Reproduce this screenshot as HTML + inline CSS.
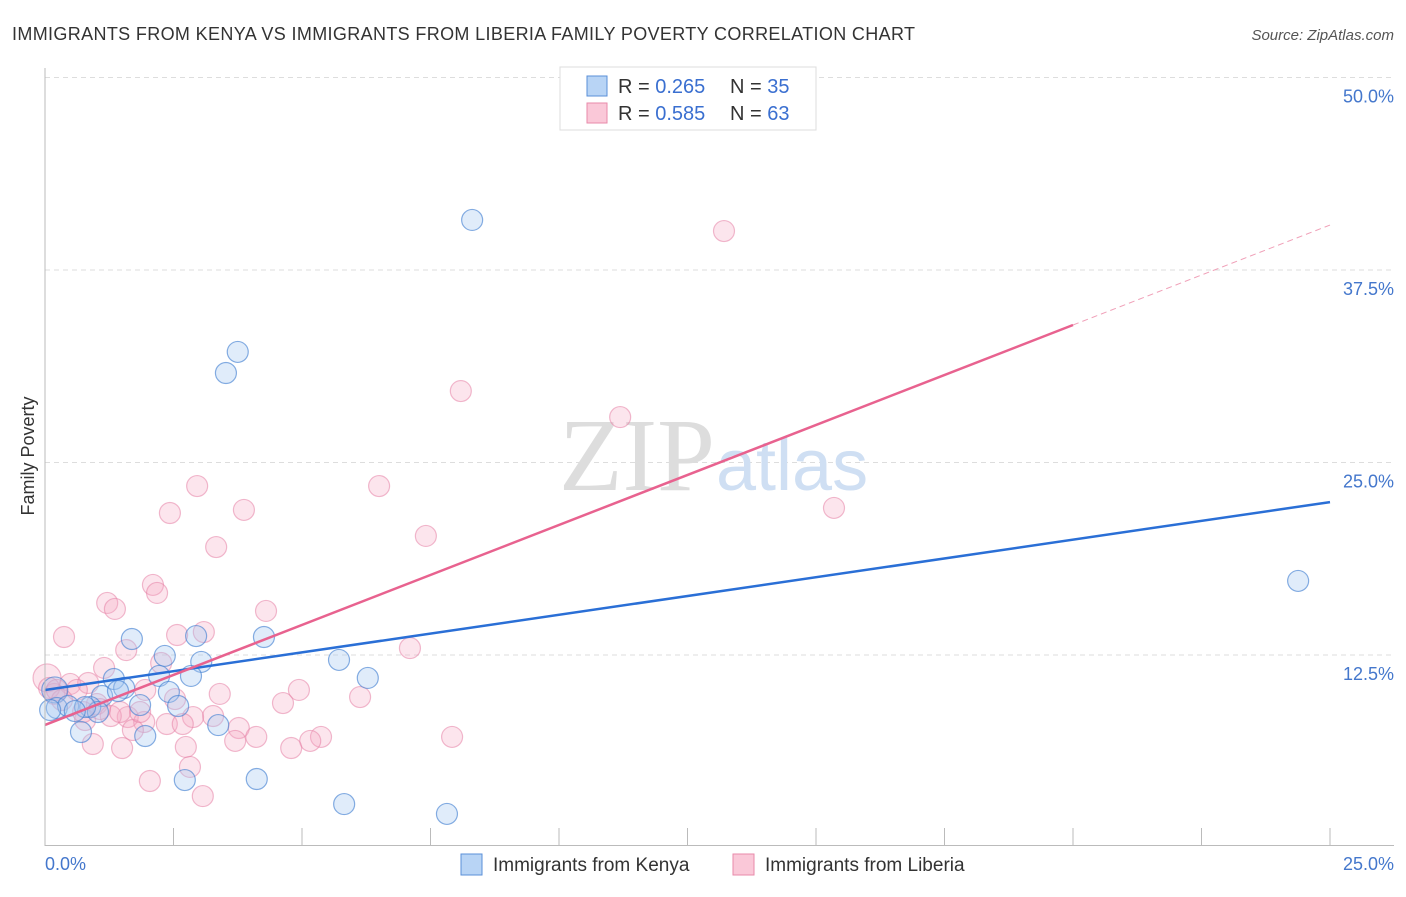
<!DOCTYPE html>
<html><head><meta charset="utf-8"><style>
body{margin:0;background:#fff;font-family:"Liberation Sans",sans-serif}
</style></head><body>
<svg width="1406" height="892" xmlns="http://www.w3.org/2000/svg">
<text x="12" y="40" font-size="18" fill="#333" textLength="903" lengthAdjust="spacing">IMMIGRANTS FROM KENYA VS IMMIGRANTS FROM LIBERIA FAMILY POVERTY CORRELATION CHART</text>
<text x="1394" y="40" font-size="15" fill="#555" font-style="italic" text-anchor="end">Source: ZipAtlas.com</text>
<text x="34" y="456" font-size="18" fill="#333" transform="rotate(-90 34 456)" text-anchor="middle">Family Poverty</text>
<g id="grid"></g>
<text x="715" y="490" font-size="104" fill="#ddd" text-anchor="end" font-family="Liberation Serif,serif">ZIP</text>
<text x="716" y="490" font-size="72" fill="#cfdff3">atlas</text>
<g id="pts"></g><g id="lines"></g>
<line x1="45" y1="68" x2="45" y2="846" stroke="#bbb"/>
<line x1="45" y1="845.5" x2="1394" y2="845.5" stroke="#bbb"/>
<g id="ticks"></g>
<text x="45" y="870" font-size="18" fill="#4477cc">0.0%</text>
<text x="1394" y="870" font-size="18" fill="#4477cc" text-anchor="end">25.0%</text>
<g>
<rect x="560" y="67" width="256" height="63" fill="#fff" stroke="#ddd"/>
<rect x="587" y="76" width="20" height="20" fill="#b8d4f5" stroke="#5a8fd8"/>
<rect x="587" y="103" width="20" height="20" fill="#fac8d8" stroke="#e88aaa"/>
<text x="618" y="93" font-size="20" fill="#333">R = <tspan fill="#3a6fd0">0.265</tspan></text>
<text x="730" y="93" font-size="20" fill="#333">N = <tspan fill="#3a6fd0">35</tspan></text>
<text x="618" y="120" font-size="20" fill="#333">R = <tspan fill="#3a6fd0">0.585</tspan></text>
<text x="730" y="120" font-size="20" fill="#333">N = <tspan fill="#3a6fd0">63</tspan></text>
</g>
<g>
<rect x="461" y="854" width="21" height="21" fill="#b8d4f5" stroke="#5a8fd8"/>
<text x="493" y="871" font-size="19" fill="#333">Immigrants from Kenya</text>
<rect x="733" y="854" width="21" height="21" fill="#fac8d8" stroke="#e88aaa"/>
<text x="765" y="871" font-size="19" fill="#333">Immigrants from Liberia</text>
</g>
</svg>
<script>
const yTicks=[12.5,25,37.5,50];
const yTickLabels=["12.5%","25.0%","37.5%","50.0%"];
const xTicks=[0,2.5,5,7.5,10,12.5,15,17.5,20,22.5,25];
const kenyaPx=[[472,220],[238,352],[226,373],[1298,581],[132,639],[196,636],[264,637],[165,656],[201,662],[339,660],[368,678],[114,679],[159,676],[191,676],[124,688],[102,696],[118,691],[55,690],[169,692],[140,705],[178,706],[57,708],[68,706],[90,707],[98,712],[85,707],[75,711],[81,732],[145,736],[218,725],[185,780],[257,779],[344,804],[447,814],[50,710]];
const liberiaPx=[[724,231],[461,391],[620,417],[197,486],[379,486],[170,513],[244,510],[834,508],[426,536],[216,547],[153,585],[157,593],[107,603],[115,609],[266,611],[64,637],[177,635],[204,632],[126,650],[410,648],[104,668],[161,663],[47,678],[70,684],[88,683],[145,690],[220,694],[299,690],[54,694],[77,690],[175,699],[360,697],[283,703],[97,704],[213,716],[193,717],[128,717],[111,716],[120,712],[144,722],[167,724],[183,724],[133,730],[239,728],[49,688],[85,720],[256,737],[235,741],[321,737],[310,741],[452,737],[93,744],[122,748],[186,747],[291,748],[190,767],[150,781],[203,796],[100,709],[62,700],[140,712],[83,712],[57,690]];
const kenyaX=kenyaPx.map(p=>+((p[0]-45)*25/1285).toFixed(2));
const kenyaY=kenyaPx.map(p=>+((847.5-p[1])*12.5/192.5).toFixed(2));
const liberiaX=liberiaPx.map(p=>+((p[0]-45)*25/1285).toFixed(2));
const liberiaY=liberiaPx.map(p=>+((847.5-p[1])*12.5/192.5).toFixed(2));
const kenyaTrend=[10.23,22.43];
const liberiaTrend=[7.96,40.42];
const sx=v=>45+v*1285/25, sy=v=>847.5-v*192.5/12.5;
const NS="http://www.w3.org/2000/svg";
function mk(t,a,p){const e=document.createElementNS(NS,t);for(const k in a)e.setAttribute(k,a[k]);p.appendChild(e);return e;}
const grid=document.getElementById('grid');
yTicks.forEach((v,i)=>{
 const l=mk('line',{x1:45,x2:1394,y1:sy(v),y2:sy(v),stroke:'#ddd','stroke-dasharray':'5,4'},grid);
 
 
 const t=mk('text',{x:1394,y:sy(v)+25,'font-size':18,fill:'#4477cc','text-anchor':'end'},grid);
 t.textContent=yTickLabels[i];
 
 
});
const tk=document.getElementById('ticks');
xTicks.forEach(v=>{
 const l=mk('line',{x1:sx(v),x2:sx(v),y1:828,y2:846,stroke:'#bbb'},tk);
 
 
});
const pts=document.getElementById('pts');
liberiaX.forEach((x,i)=>{
 const c=mk('circle',{cx:sx(x),cy:sy(liberiaY[i]),r:i==22?14:10.5,fill:'rgba(245,170,195,0.3)',stroke:'rgba(230,130,165,0.55)','stroke-width':1.2},pts);
 
 
});
kenyaX.forEach((x,i)=>{
 const c=mk('circle',{cx:sx(x),cy:sy(kenyaY[i]),r:i==17?13:10.5,fill:'rgba(165,200,240,0.35)',stroke:'rgba(70,130,210,0.65)','stroke-width':1.2},pts);
 
 
});
const ln=document.getElementById('lines');
let a=mk('line',{x1:sx(0),y1:sy(kenyaTrend[0]),x2:sx(25),y2:sy(kenyaTrend[1]),stroke:'#2a6fd6','stroke-width':2.5},ln);


const lat=x=>liberiaTrend[0]+(liberiaTrend[1]-liberiaTrend[0])*x/25;
let b=mk('line',{x1:sx(0),y1:sy(lat(0)),x2:sx(20),y2:sy(lat(20)),stroke:'#e8628f','stroke-width':2.5},ln);


let d=mk('line',{x1:sx(20),y1:sy(lat(20)),x2:sx(25),y2:sy(lat(25)),stroke:'#f0a0b8','stroke-width':1,'stroke-dasharray':'6,4'},ln);


</script>
</body></html>
